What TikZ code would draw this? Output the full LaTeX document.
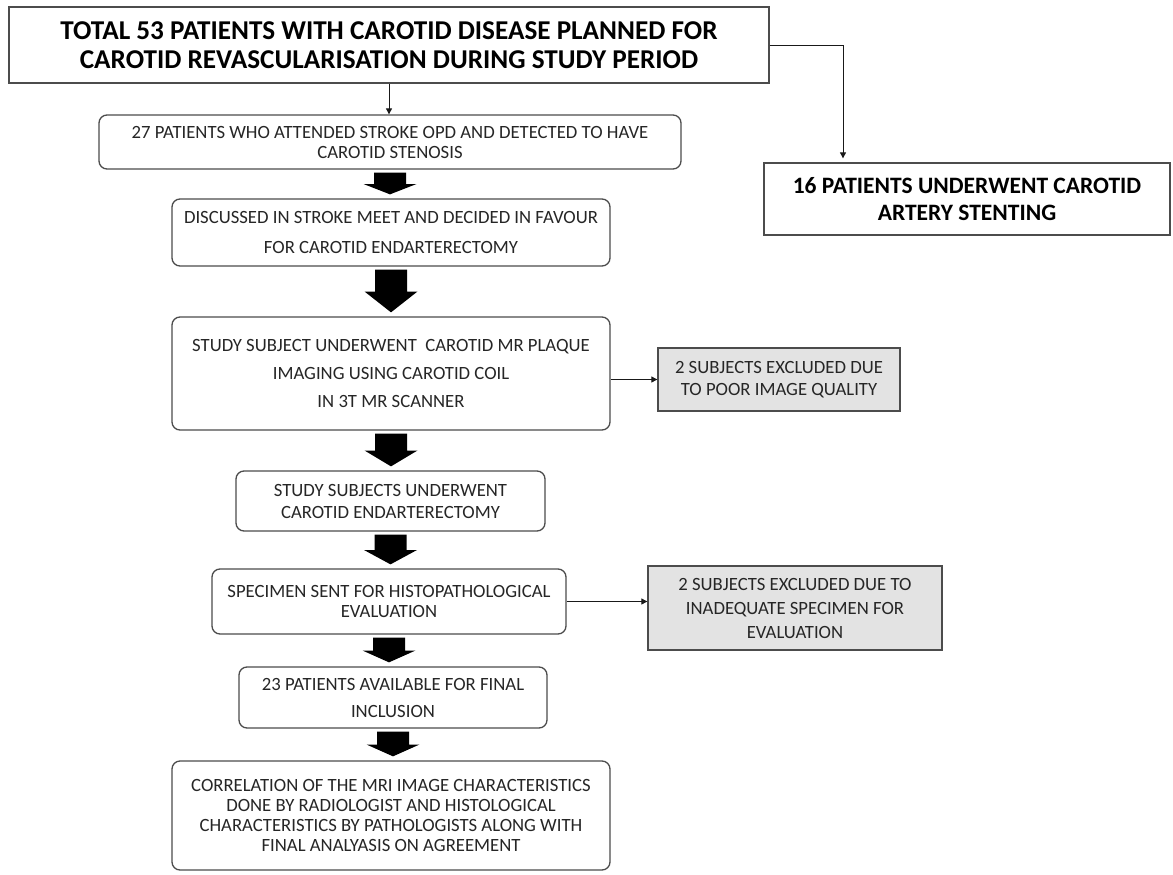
\documentclass[tikz,border=0pt]{standalone}
\usepackage{fontspec}
\setmainfont{Carlito}
\usetikzlibrary{arrows.meta,calc}

\tikzset{
  plain/.style={draw=black!70, line width=1.3pt, fill=white, inner sep=0pt, align=center},
  stage/.style={plain, rounded corners=8pt, text=black!85},
  excluded/.style={plain, fill=black!11, text=black!85},
  boxsize/.style n args={2}{minimum width=#1, minimum height=#2},
  txt/.style={font=\fontsize{18.7}{#1}\selectfont},
  link/.style={-{Triangle[length=6pt,width=6pt]}, line width=0.9pt, black!90},
}

% thick block arrow from the bottom of one box to the top of the next
\newcommand{\fatarrow}[2]{%
  \fill[black] let \p1=(#1.south), \p2=(#2.north), \p3=($(\p1)!.5!(\p2)$) in
    (\x1-16pt,\y1-3pt) -- (\x1+16pt,\y1-3pt) -- (\x1+16pt,\y3) -- (\x1+26.5pt,\y3)
    -- (\x1,\y2+4pt) -- (\x1-26.5pt,\y3) -- (\x1-16pt,\y3) -- cycle;}

\begin{document}
\begin{tikzpicture}[x=1pt,y=-1pt]
\useasboundingbox (0,0) rectangle (1173,875);

\node[plain, boxsize={760}{76}, font=\fontsize{27.2}{29}\selectfont\bfseries] (total) at (389,45)
  {TOTAL 53 PATIENTS WITH CAROTID DISEASE PLANNED FOR\\CAROTID REVASCULARISATION DURING STUDY PERIOD};
\node[plain, boxsize={406}{72}, font=\fontsize{23.5}{27}\selectfont\bfseries] (stent) at (967,199)
  {16 PATIENTS UNDERWENT CAROTID\\ARTERY STENTING};

\node[stage, boxsize={582}{54}, txt=20] (opd) at (390,142)
  {27 PATIENTS WHO ATTENDED STROKE OPD AND DETECTED TO HAVE\\CAROTID STENOSIS};
\node[stage, boxsize={438}{67}, txt=30] (meet) at (391,232.5)
  {DISCUSSED IN STROKE MEET AND DECIDED IN FAVOUR\\FOR CAROTID ENDARTERECTOMY};
\node[stage, boxsize={438}{113}, txt=28] (mri) at (391,373.5)
  {STUDY SUBJECT UNDERWENT\ \ CAROTID MR PLAQUE\\IMAGING USING CAROTID COIL\\IN 3T MR SCANNER};
\node[excluded, boxsize={242}{63}, txt=22] (poor) at (779,379.5)
  {2 SUBJECTS EXCLUDED DUE\\TO POOR IMAGE QUALITY};
\node[stage, boxsize={309}{60}, txt=22] (cea) at (390.5,501)
  {STUDY SUBJECTS UNDERWENT\\CAROTID ENDARTERECTOMY};
\node[stage, boxsize={354}{65}, txt=20] (histo) at (389,601.5)
  {SPECIMEN SENT FOR HISTOPATHOLOGICAL\\EVALUATION};
\node[excluded, boxsize={294}{84}, txt=24] (specimen) at (795,608)
  {2 SUBJECTS EXCLUDED DUE TO\\INADEQUATE SPECIMEN FOR\\EVALUATION};
\node[stage, boxsize={308}{61}, txt=27] (avail) at (393,697.5)
  {23 PATIENTS AVAILABLE FOR FINAL\\INCLUSION};
\node[stage, boxsize={438}{109}, txt=20] (corr) at (391,815.5)
  {CORRELATION OF THE MRI IMAGE CHARACTERISTICS\\DONE BY RADIOLOGIST AND HISTOLOGICAL\\CHARACTERISTICS BY PATHOLOGISTS ALONG WITH\\FINAL ANALYASIS ON AGREEMENT};

% thin connectors
\coordinate (bend) at (843,45);
\draw[link] (total.south) -- (total.south |- opd.north);
\draw[link, shorten >=4pt] (total.east) -- (bend) -- (bend |- stent.north);
\draw[link] (poor.west -| mri.east) -- (poor.west);
\draw[link] (histo.east) -- (histo.east -| specimen.west);

% block arrows down the main column
\fatarrow{opd}{meet}
\fatarrow{meet}{mri}
\fatarrow{mri}{cea}
\fatarrow{cea}{histo}
\fatarrow{histo}{avail}
\fatarrow{avail}{corr}
\end{tikzpicture}
\end{document}
